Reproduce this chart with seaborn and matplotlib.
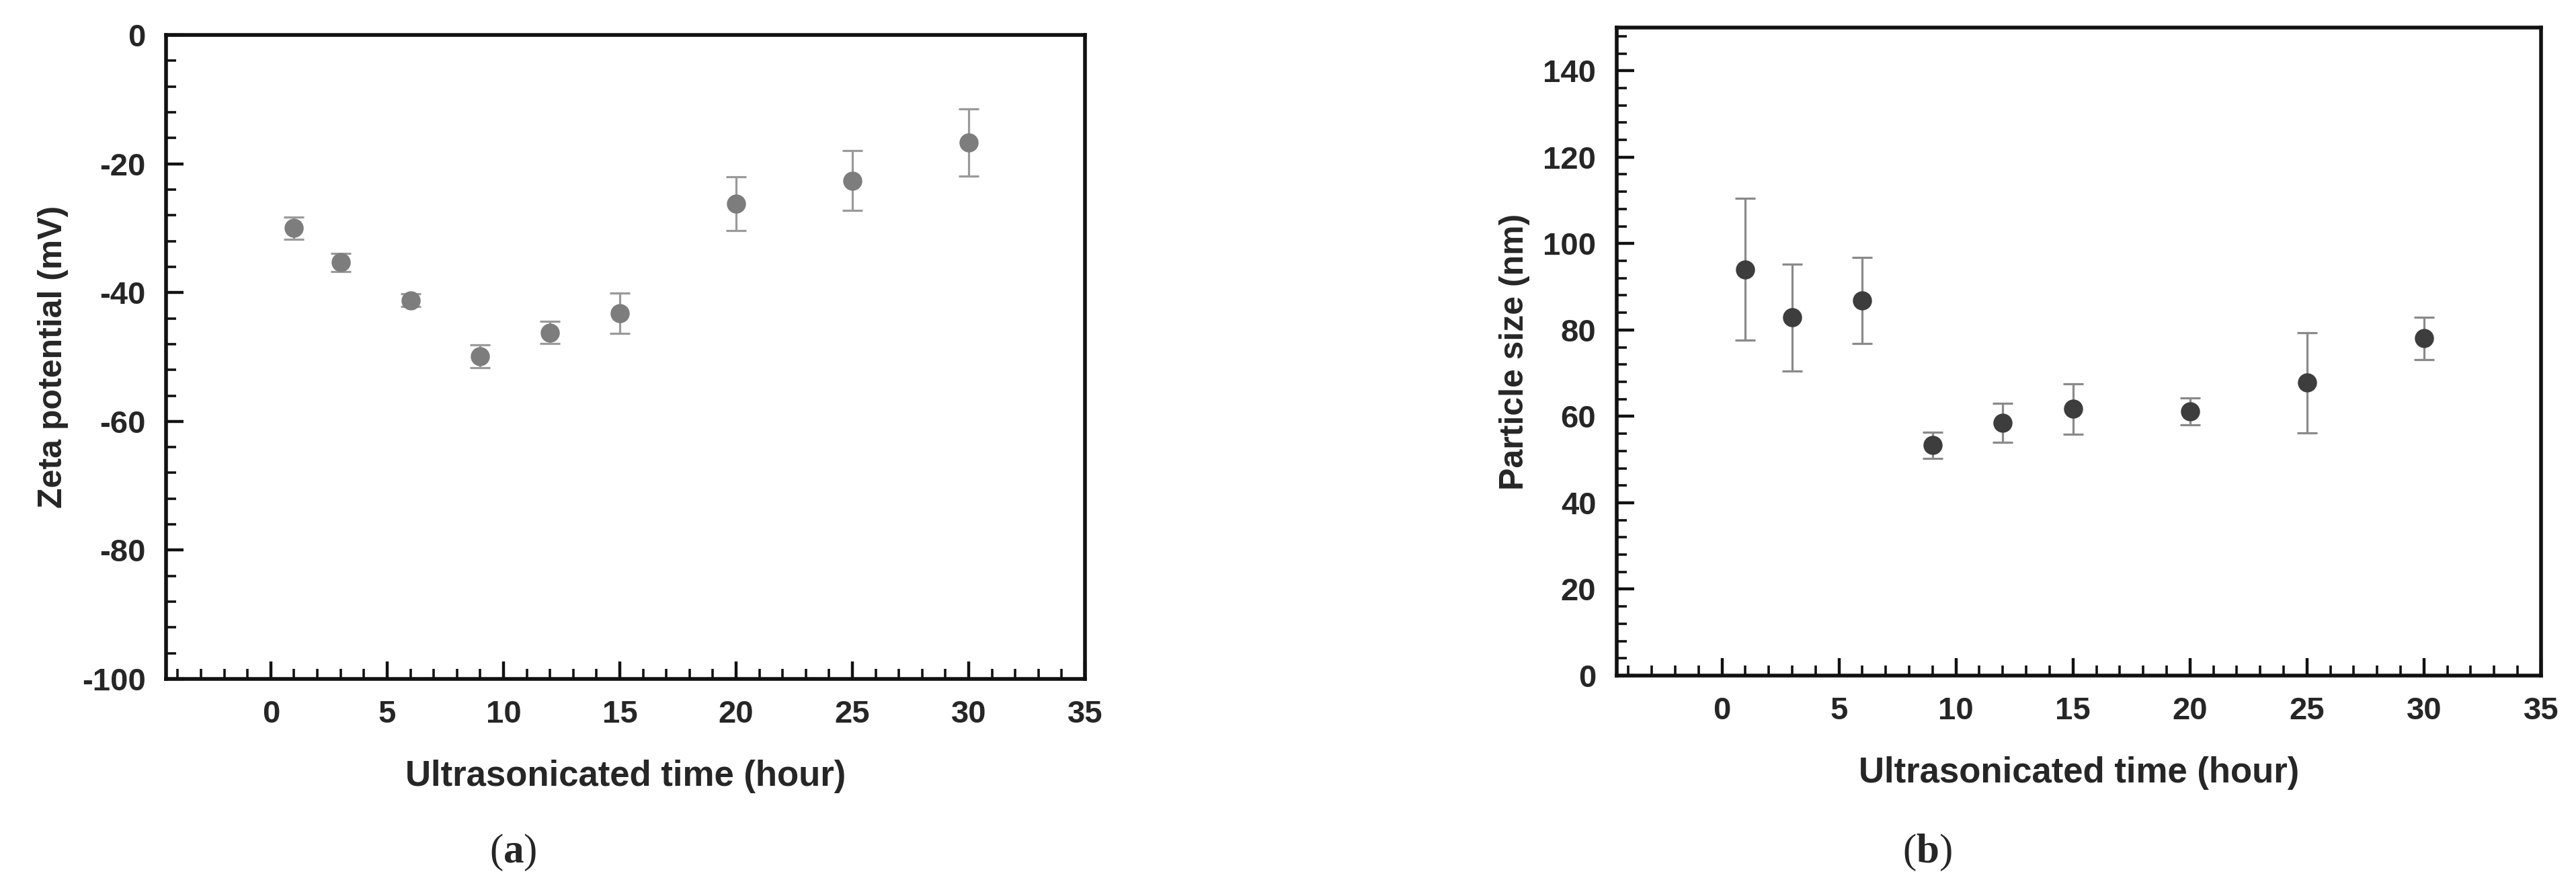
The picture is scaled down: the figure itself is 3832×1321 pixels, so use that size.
import matplotlib
matplotlib.use('Agg')
import matplotlib.pyplot as plt
import seaborn as sns
from matplotlib.ticker import MultipleLocator

# ultrasonication time (hour)
hours = [1, 3, 6, 9, 12, 15, 20, 25, 30]

# (a) zeta potential (mV) and its error
zeta = [-30.0, -35.3, -41.2, -49.9, -46.2, -43.2, -26.2, -22.6, -16.7]
zeta_err = [1.7, 1.4, 1.0, 1.8, 1.7, 3.1, 4.2, 4.6, 5.2]

# (b) particle size (nm) and its error
size = [94.0, 82.9, 86.8, 53.3, 58.5, 61.7, 61.1, 67.8, 78.1]
size_err = [16.4, 12.4, 10.0, 3.0, 4.5, 5.8, 3.1, 11.6, 4.9]

sns.set_style('white')
plt.rcParams['font.family'] = ['Liberation Sans', 'DejaVu Sans']
plt.rcParams['axes.unicode_minus'] = False
plt.rcParams['mathtext.fontset'] = 'custom'
plt.rcParams['mathtext.rm'] = 'Liberation Serif'
plt.rcParams['mathtext.bf'] = 'Liberation Serif:bold'

fig = plt.figure(figsize=(38.32, 13.21), dpi=100)
ax_a = fig.add_axes([0.0645, 0.2354, 0.3567, 0.7252])
ax_b = fig.add_axes([0.6276, 0.2392, 0.3588, 0.7298])


def draw_panel(ax, y, yerr, dot, bar, ylim, ylabel):
    ax.errorbar(hours, y, yerr=yerr, fmt='none', ecolor=bar,
                elinewidth=2.3, capsize=10.5, capthick=2.3, zorder=2)
    sns.scatterplot(x=hours, y=y, ax=ax, color=dot, s=420,
                    edgecolor=dot, linewidth=0, zorder=3)
    ax.set_xlim(-4.5, 35)
    ax.set_ylim(*ylim)
    ax.xaxis.set_major_locator(MultipleLocator(5))
    ax.xaxis.set_minor_locator(MultipleLocator(1))
    ax.yaxis.set_major_locator(MultipleLocator(20))
    ax.yaxis.set_minor_locator(MultipleLocator(4))
    ax.tick_params(which='both', direction='in', top=False, right=False,
                   bottom=True, left=True, color='#111111')
    ax.tick_params(which='major', length=19, width=3.2, labelsize=34, pad=22)
    ax.tick_params(which='minor', length=11, width=2.6)
    for lbl in ax.get_xticklabels() + ax.get_yticklabels():
        lbl.set_fontweight('bold')
    for sp in ax.spines.values():
        sp.set_visible(True)
        sp.set_linewidth(4)
        sp.set_color('#111111')
    ax.set_xlabel('Ultrasonicated time (hour)', fontsize=38,
                  fontweight='bold', labelpad=33)
    ax.set_ylabel(ylabel, fontsize=36, fontweight='bold', labelpad=14)


draw_panel(ax_a, zeta, zeta_err, '#7d7d7d', '#9a9a9a', (-100, 0),
           'Zeta potential (mV)')
draw_panel(ax_b, size, size_err, '#3d3d3d', '#8a8a8a', (0, 150),
           'Particle size (nm)')
ax_b.set_yticks(range(0, 141, 20))
ax_b.set_ylim(0, 150)

# panel captions
fig.text(763 / 3832, 1 - 1268 / 1321, r'($\mathbf{a}$)', fontsize=44,
         family=['Liberation Serif', 'DejaVu Serif'], ha='center', va='center')
fig.text(2867 / 3832, 1 - 1268 / 1321, r'($\mathbf{b}$)', fontsize=44,
         family=['Liberation Serif', 'DejaVu Serif'], ha='center', va='center')

fig.savefig('out.png', dpi=100, facecolor='white')
